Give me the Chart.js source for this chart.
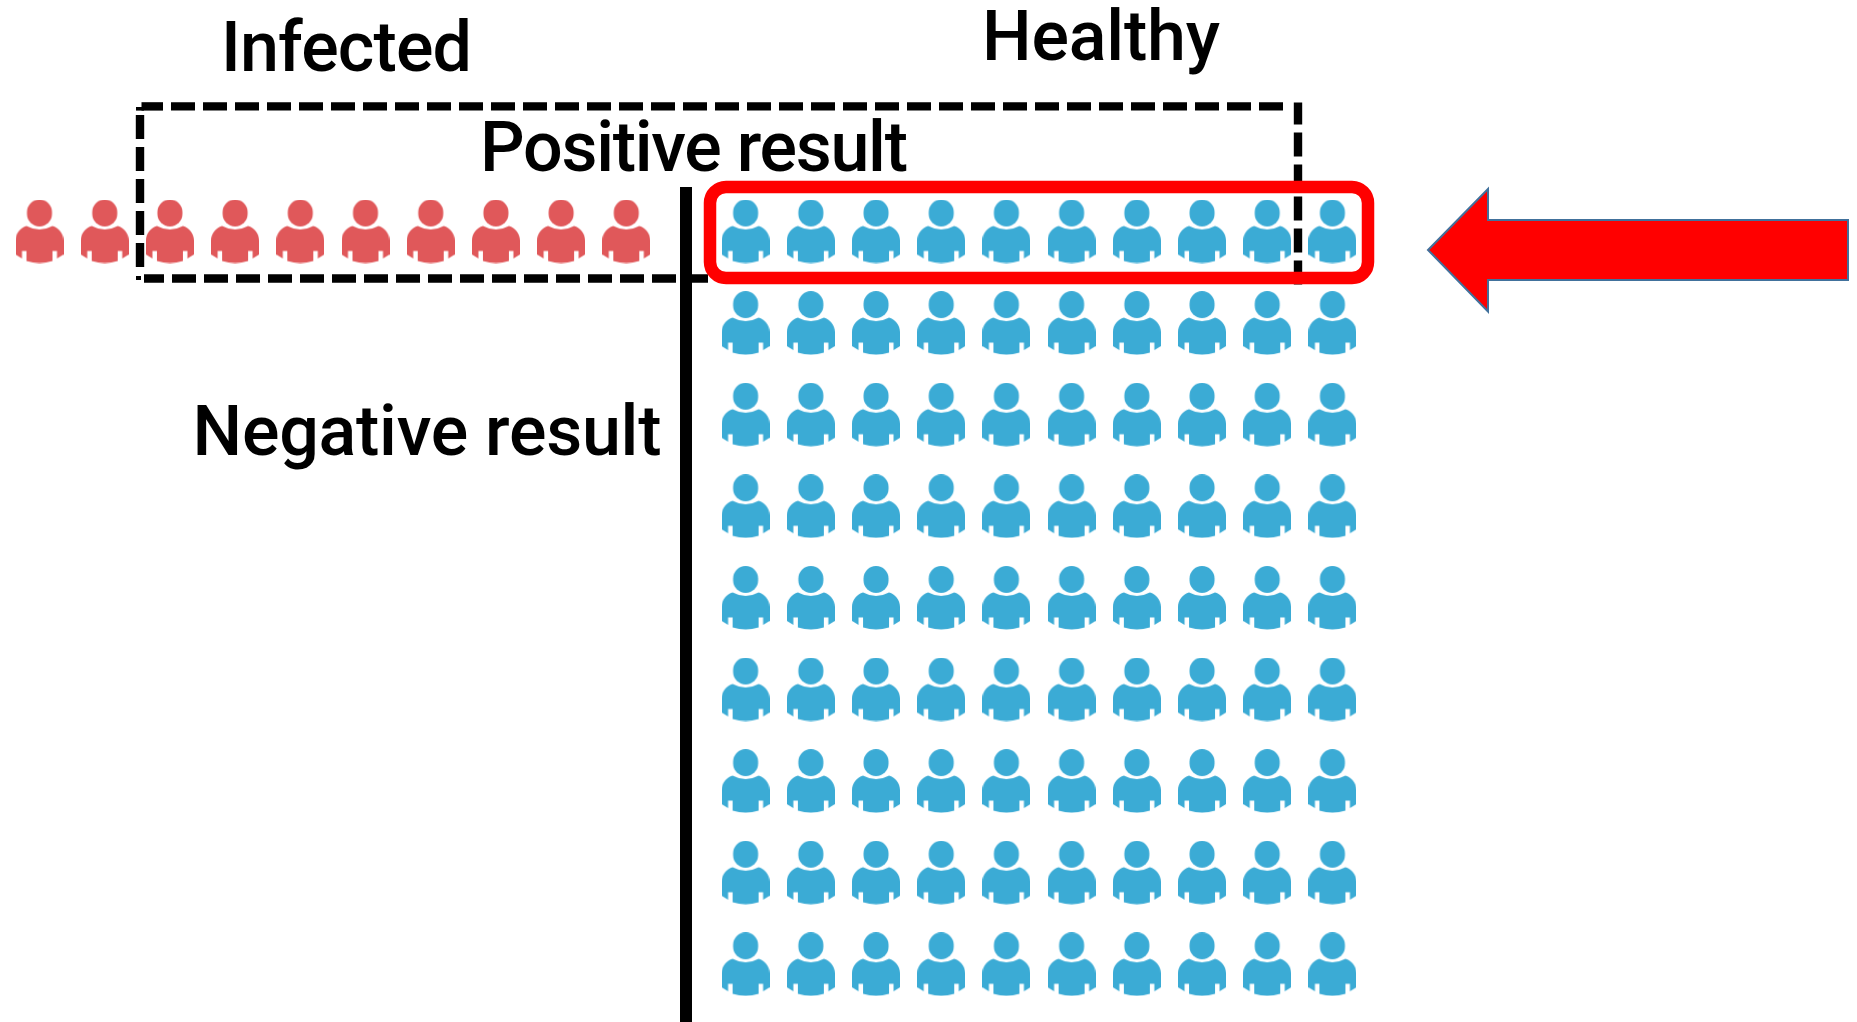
<!DOCTYPE html>
<html><head><meta charset="utf-8">
<style>html,body{margin:0;padding:0;background:#fff;overflow:hidden}#w{position:relative;width:1857px;height:1022px}canvas{display:block}</style>
<script src="https://cdn.jsdelivr.net/npm/chart.js@4"></script>
</head><body><div id="w"><canvas id="c" width="1857" height="1022"></canvas></div>
<script>
const infectedColumns=[0,1,2,3,4,5,6,7,8,9];
const infectedRows=[0];
const healthyColumns=[10.83,11.83,12.83,13.83,14.83,15.83,16.83,17.83,18.83,19.83];
const healthyRows=[0,1,2,3,4,5,6,7,8,9];
const labels=["Infected","Healthy","Positive result","Negative result"];
const RED="#E0585A",BLUE="#3BABD5";
function person(color){
  const c=document.createElement('canvas');c.width=48;c.height=64;
  const g=c.getContext('2d');g.fillStyle=color;
  g.beginPath();g.roundRect(11.5,0,25,27,12.5);g.fill();
  g.beginPath();g.moveTo(0,55);g.lineTo(0,41);g.bezierCurveTo(0,34,5,28,11,26.5);
  g.quadraticCurveTo(24,33.5,37,26.5);g.bezierCurveTo(43,28,48,34,48,41);g.lineTo(48,55);
  g.lineTo(41.5,59);g.lineTo(41.5,51.5);g.lineTo(37,51.5);g.lineTo(37,61.5);
  g.quadraticCurveTo(24,65.5,11,61.5);g.lineTo(11,51.5);g.lineTo(6.5,51.5);g.lineTo(6.5,59);g.closePath();g.fill();
  return c;
}
const cross=(xs,ys)=>ys.flatMap(y=>xs.map(x=>({x,y})));
const PX=65.2,PY=91.6,X0=39.5,Y0=231.5;
function seg(g,x1,y1,x2,y2,off){g.lineDashOffset=off||0;g.beginPath();g.moveTo(x1,y1);g.lineTo(x2,y2);g.stroke();}
function fit(g,t,x,y,w){g.letterSpacing='0px';const m=g.measureText(t).width;g.letterSpacing=((w-m)/(t.length-1))+'px';g.fillText(t,x,y);}
const back={id:'back',beforeDatasetsDraw(ch){
  const g=ch.ctx;g.save();
  g.strokeStyle='#000';g.lineWidth=8.4;g.setLineDash([24,8]);
  seg(g,708,278.5,144,278.5);
  seg(g,140,267,140,110);
  seg(g,171,106.4,1284,106.4);
  seg(g,1298,102.5,1298,290,2);
  g.setLineDash([]);g.fillStyle='#000';
  g.fillRect(141.5,102.2,21.5,8.4);g.fillRect(136,107,8,3.6);g.fillRect(136,276,5,4);
  g.lineWidth=12;g.beginPath();g.moveTo(686,187);g.lineTo(686,1022);g.stroke();
  g.strokeStyle='#FF0000';g.lineWidth=12.5;g.beginPath();g.roundRect(710,187,658,91,16);g.stroke();
  g.fillStyle='#FF0000';g.strokeStyle='#41719C';g.lineWidth=2;g.beginPath();
  g.moveTo(1428,250);g.lineTo(1488,189);g.lineTo(1488,220);g.lineTo(1848,220);g.lineTo(1848,280);g.lineTo(1488,280);g.lineTo(1488,311.5);g.closePath();g.fill();g.stroke();
  g.fillStyle='#000';g.textBaseline='alphabetic';g.textAlign='left';g.font='500 70px Roboto';
  fit(g,labels[0],221,71,251);fit(g,labels[1],982,60,238);fit(g,labels[2],480,170.5,428);fit(g,labels[3],192.5,454.5,469);
  g.restore();
}};
new Chart(document.getElementById('c'),{type:'scatter',
 data:{datasets:[
  {label:'Infected',data:cross(infectedColumns,infectedRows),pointStyle:person(RED),pointRadius:24},
  {label:'Healthy',data:cross(healthyColumns,healthyRows),pointStyle:person(BLUE),pointRadius:24}
 ]},
 options:{responsive:false,animation:false,events:[],layout:{padding:0,autoPadding:false},
  plugins:{legend:{display:false},tooltip:{enabled:false},title:{display:false}},
  scales:{
   x:{type:'linear',display:false,min:-X0/PX,max:(1857-X0)/PX},
   y:{type:'linear',display:false,reverse:true,min:-Y0/PY,max:(1022-Y0)/PY}
  }},
 plugins:[back]});
</script></body></html>
